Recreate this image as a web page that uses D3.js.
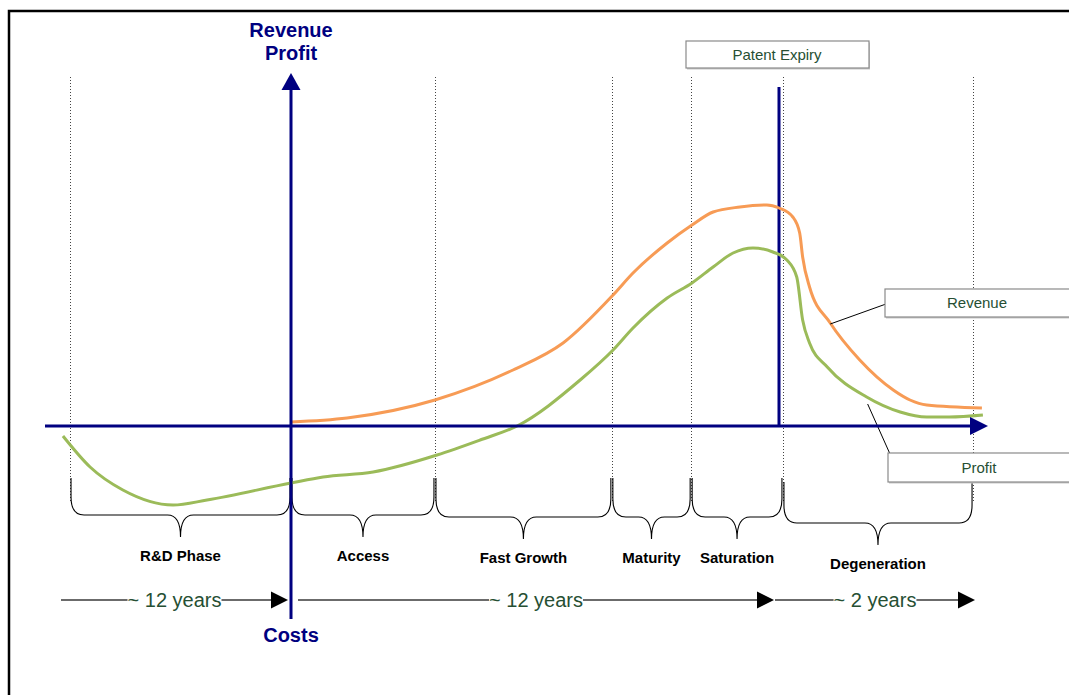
<!DOCTYPE html>
<html>
<head>
<meta charset="utf-8">
<script src="https://cdn.jsdelivr.net/npm/d3@7"></script>
<style>
  html, body { margin: 0; padding: 0; background: #fff; }
  svg { display: block; font-family: Arial, "Liberation Sans", sans-serif; }
</style>
</head>
<body>
<svg id="chart" width="1069" height="695"></svg>
<script>
// Product life cycle: years relative to market launch
const revenueYears  = [0, 1.38, 3.54, 5.46, 6.69, 7.92, 8.41, 9.25, 9.86, 10.38, 11.04, 11.70, 12.0, 12.14, 12.21, 12.24, 12.31, 12.52, 12.82, 13.16, 13.33, 13.50, 14.06];
const revenueValues = [0.4, 0.8, 2.6, 5.6, 8.3, 13.1, 15.3, 18.3, 20.1, 21.4, 21.9, 22.1, 21.8, 20.9, 19.3, 16.9, 13.9, 10.3, 6.6, 3.6, 2.6, 2.1, 1.8];

const profitYears  = [-11.95, -10.53, -8.81, -6.18, -4.40, 0, 0.79, 2.02, 3.59, 4.65, 5.56, 7.11, 7.92, 8.41, 9.25, 9.86, 10.38, 10.87, 11.36, 11.85, 12.08, 12.18, 12.24, 12.31, 12.49, 12.89, 13.23, 13.50, 13.73, 14.07];
const profitValues = [-1.0, -4.1, -6.4, -7.9, -7.4, -5.7, -5.1, -4.6, -2.9, -1.4, 0, 4.6, 7.6, 9.8, 12.8, 14.3, 15.9, 17.3, 17.8, 17.4, 16.6, 14.9, 10.6, 8.3, 5.9, 2.9, 1.4, 0.9, 0.9, 1.1];

const phaseNames  = ["R&D Phase", "Access", "Fast Growth", "Maturity", "Saturation", "Degeneration"];
const phaseStarts = [-11.58, 0, 3.54, 7.89, 9.84, 12.04];
const phaseEnds   = [0, 3.54, 7.89, 9.84, 12.04, 13.97];

const spanLabels = ["~ 12 years", "~ 12 years", "~ 2 years"];
const spanStarts = [-12, 0, 12];
const spanEnds   = [0, 12, 14];

const patentExpiry = 12;

const svg = d3.select("#chart");

// Piecewise time scale: R&D years, market years, degeneration years
const x = d3.scaleLinear().domain([-12, 0, 12, 14]).range([62, 291, 779, 976]);
const y = d3.scaleLinear().domain([-20, 35]).range([626, 76]);

const navy = "#000080";
const textGreen = "#264F33";

// Outer frame
svg.append("rect")
  .attr("x", 9).attr("y", 11).attr("width", 1100).attr("height", 720)
  .attr("fill", "none").attr("stroke", "#000").attr("stroke-width", 2.5);

// Phase boundaries (dotted)
const boundaries = Array.from(new Set(phaseStarts.concat(phaseEnds))).filter(d => d !== 0);
svg.append("g").selectAll("line").data(boundaries).join("line")
  .attr("x1", d => Math.round(x(d)) + 0.5).attr("x2", d => Math.round(x(d)) + 0.5)
  .attr("y1", 77).attr("y2", 501)
  .attr("stroke", "#444").attr("stroke-width", 1).attr("stroke-dasharray", "1,2");

// Curly braces under each phase
function brace(x0, x1, top, h, tip) {
  const cx = (x0 + x1) / 2;
  const r = Math.min(13, (x1 - x0) / 5);
  const bend = h - 18;
  return `M${x0},${top} L${x0},${bend} Q${x0},${h} ${x0 + r},${h} L${cx - r},${h} Q${cx},${h} ${cx},${tip}` +
         ` Q${cx},${h} ${cx + r},${h} L${x1 - r},${h} Q${x1},${h} ${x1},${bend} L${x1},${top}`;
}
const braceDrop = [0, 0, 2, 2, 2, 8];
const phases = phaseNames.map((name, i) => ({ name, start: phaseStarts[i], end: phaseEnds[i], drop: braceDrop[i] }));

svg.append("g").selectAll("path").data(phases).join("path")
  .attr("d", d => brace(x(d.start) + 1, x(d.end) - 1, 478 + (d.drop > 4 ? 4 : 0), 515 + d.drop, 537 + d.drop))
  .attr("fill", "none").attr("stroke", "#000").attr("stroke-width", 1.1);

svg.append("g").selectAll("text").data(phases).join("text")
  .attr("x", d => (x(d.start) + x(d.end)) / 2)
  .attr("y", d => 561 + d.drop)
  .attr("text-anchor", "middle")
  .attr("font-size", 15).attr("font-weight", "bold").attr("fill", "#000")
  .text(d => d.name);

// Patent expiry marker
svg.append("line")
  .attr("x1", x(patentExpiry)).attr("x2", x(patentExpiry))
  .attr("y1", 87).attr("y2", y(0))
  .attr("stroke", navy).attr("stroke-width", 3);

// Label boxes
function labelBox(bx, by, w, h) {
  const g = svg.append("g");
  g.append("rect").attr("x", bx + 1).attr("y", by + 1.5).attr("width", w).attr("height", h)
    .attr("fill", "#c8c8c8");
  g.append("rect").attr("x", bx).attr("y", by).attr("width", w).attr("height", h)
    .attr("fill", "#fff").attr("stroke", "#8a8a8a").attr("stroke-width", 1.2);
  return g;
}
labelBox(686, 41, 183, 27);
svg.append("text").attr("x", 777).attr("y", 59.5).attr("text-anchor", "middle")
  .attr("font-size", 15).attr("fill", textGreen).text("Patent Expiry");

// Curves
const line = d3.line().x(d => x(d[0])).y(d => y(d[1])).curve(d3.curveMonotoneX);
const revenue = revenueYears.map((t, i) => [t, revenueValues[i]]);
const profit = profitYears.map((t, i) => [t, profitValues[i]]);

svg.append("path").datum(revenue).attr("d", line)
  .attr("fill", "none").attr("stroke", "#F79B55").attr("stroke-width", 3);
svg.append("path").datum(profit).attr("d", line)
  .attr("fill", "none").attr("stroke", "#9BBB59").attr("stroke-width", 3);

// Callouts
svg.append("line").attr("x1", x(12.52)).attr("y1", y(10.2)).attr("x2", 886).attr("y2", 304)
  .attr("stroke", "#000").attr("stroke-width", 1);
svg.append("line").attr("x1", x(12.9)).attr("y1", y(2.2)).attr("x2", 890).attr("y2", 454)
  .attr("stroke", "#000").attr("stroke-width", 1);
labelBox(885, 289, 200, 28);
svg.append("text").attr("x", 977).attr("y", 308).attr("text-anchor", "middle")
  .attr("font-size", 15).attr("fill", textGreen).text("Revenue");
labelBox(888, 453, 200, 29);
svg.append("text").attr("x", 979).attr("y", 473).attr("text-anchor", "middle")
  .attr("font-size", 15).attr("fill", textGreen).text("Profit");

// Horizontal axis with arrow
const axisY = y(0);
svg.append("line").attr("x1", 45).attr("x2", 972).attr("y1", axisY).attr("y2", axisY)
  .attr("stroke", navy).attr("stroke-width", 3);
svg.append("path")
  .attr("d", `M970,${axisY - 9} L988,${axisY} L970,${axisY + 9} Z`)
  .attr("fill", navy);

// Vertical axis with arrow
const axisX = x(0);
svg.append("line").attr("x1", axisX).attr("x2", axisX).attr("y1", 88).attr("y2", 619)
  .attr("stroke", navy).attr("stroke-width", 3);
svg.append("path")
  .attr("d", `M${axisX - 9.5},90 L${axisX},73 L${axisX + 9.5},90 Z`)
  .attr("fill", navy);

svg.append("text").attr("x", axisX).attr("y", 37).attr("text-anchor", "middle")
  .attr("font-size", 20).attr("font-weight", "bold").attr("fill", navy).text("Revenue");
svg.append("text").attr("x", axisX).attr("y", 60).attr("text-anchor", "middle")
  .attr("font-size", 20).attr("font-weight", "bold").attr("fill", navy).text("Profit");
svg.append("text").attr("x", axisX).attr("y", 642).attr("text-anchor", "middle")
  .attr("font-size", 20).attr("font-weight", "bold").attr("fill", navy).text("Costs");

// Duration arrows
const spanY = 600;
const spanGap = [[-1, 3], [7, 5], [-4, 1]];
spanLabels.forEach((label, i) => {
  const x0 = x(spanStarts[i]) + spanGap[i][0];
  const x1 = x(spanEnds[i]) - spanGap[i][1];
  const g = svg.append("g");
  g.append("line").attr("x1", x0).attr("x2", x1 - 14).attr("y1", spanY).attr("y2", spanY)
    .attr("stroke", "#3a3a3a").attr("stroke-width", 1.5);
  g.append("path").attr("d", `M${x1 - 17},${spanY - 8.5} L${x1},${spanY} L${x1 - 17},${spanY + 8.5} Z`)
    .attr("fill", "#000");
  const t = g.append("text").attr("x", (x0 + x1) / 2).attr("y", spanY + 7)
    .attr("text-anchor", "middle").attr("font-size", 20).attr("fill", textGreen).text(label);
  const bb = t.node().getBBox();
  g.insert("rect", "text").attr("x", bb.x).attr("y", spanY - 3).attr("width", bb.width).attr("height", 6)
    .attr("fill", "#fff");
});
</script>
</body>
</html>
